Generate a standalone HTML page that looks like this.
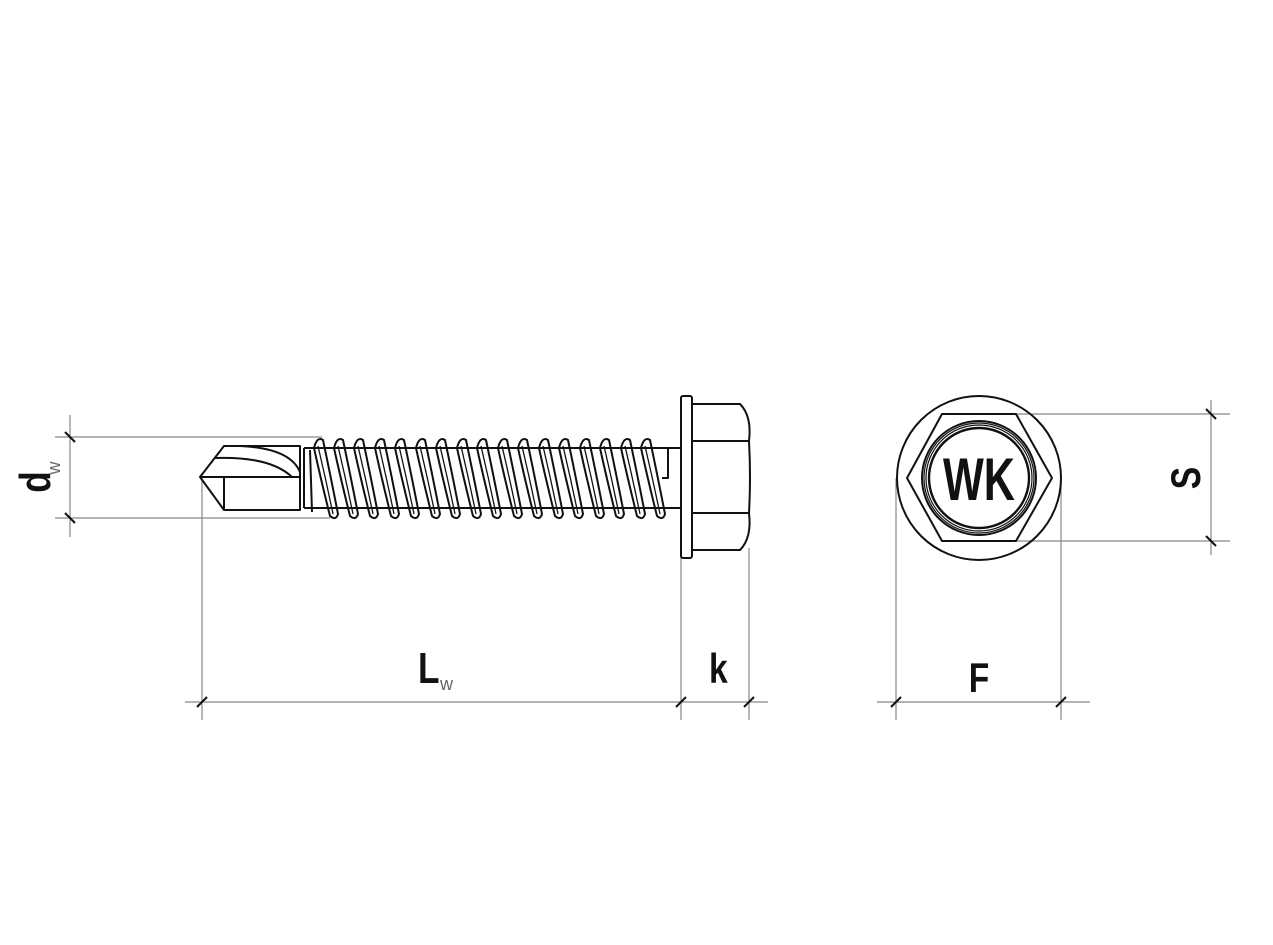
<!DOCTYPE html>
<html><head><style>body{margin:0;background:#fff}svg{display:block}text{font-family:"Liberation Sans",sans-serif;font-weight:bold;fill:#111}</style></head>
<body>
<svg width="1273" height="945" viewBox="0 0 1273 945" xmlns="http://www.w3.org/2000/svg">
<g stroke="#888" stroke-width="1.2" fill="none">
<line x1="70" y1="415" x2="70" y2="537"/>
<line x1="55" y1="437" x2="322" y2="437"/>
<line x1="55" y1="518" x2="330" y2="518"/>
<line x1="202" y1="477" x2="202" y2="720"/>
<line x1="681" y1="555" x2="681" y2="720"/>
<line x1="749" y1="548" x2="749" y2="720"/>
<line x1="185" y1="702" x2="768" y2="702"/>
<line x1="896" y1="478" x2="896" y2="720"/>
<line x1="1061" y1="478" x2="1061" y2="720"/>
<line x1="877" y1="702" x2="1090" y2="702"/>
<line x1="1016" y1="414" x2="1230" y2="414"/>
<line x1="1016" y1="541" x2="1230" y2="541"/>
<line x1="1211" y1="400" x2="1211" y2="555"/>
</g>
<g stroke="#111" stroke-width="2">
<line x1="65" y1="432" x2="75" y2="442"/><line x1="65" y1="513" x2="75" y2="523"/>
<line x1="197" y1="707" x2="207" y2="697"/><line x1="676" y1="707" x2="686" y2="697"/><line x1="744" y1="707" x2="754" y2="697"/>
<line x1="891" y1="707" x2="901" y2="697"/><line x1="1056" y1="707" x2="1066" y2="697"/>
<line x1="1206" y1="409" x2="1216" y2="419"/><line x1="1206" y1="536" x2="1216" y2="546"/>
</g>
<g stroke="#111" stroke-width="2" fill="none" stroke-linejoin="round">
<path d="M224 446 L300 446 L300 510 L224 510 L200 477 Z"/>
<line x1="200" y1="477" x2="300" y2="477"/>
<line x1="224" y1="477" x2="224" y2="510"/>
<path d="M214 458 Q270 456 292 477"/>
<path d="M240 446 Q290 448 300 472"/>
<line x1="304" y1="448" x2="681" y2="448"/>
<line x1="304" y1="508" x2="681" y2="508"/>
<path d="M304 448 L304 508 M310 450 L312 512"/>
<path d="M660 448 L668 448 L668 478 L662 478"/>
<g id="th">
<path d="M314 448 Q317 436 323 440 Q331 478 338 514 Q336 521 330 516 Q321 480 314 448"/>
<path d="M318 446 Q326 480 333 514" stroke-width="1.3"/>
</g>
<use href="#th" x="20"/><use href="#th" x="40"/><use href="#th" x="61"/><use href="#th" x="81"/>
<use href="#th" x="102"/><use href="#th" x="122"/><use href="#th" x="143"/><use href="#th" x="163"/>
<use href="#th" x="184"/><use href="#th" x="204"/><use href="#th" x="225"/><use href="#th" x="245"/>
<use href="#th" x="266"/><use href="#th" x="286"/><use href="#th" x="307"/><use href="#th" x="327"/>
<rect x="681" y="396" width="11" height="162" rx="2"/>
<path d="M692 404 L740 404 Q752 416 749 441 L692 441"/>
<path d="M692 441 L749 441 Q751 477 749 513 L692 513"/>
<path d="M692 513 L749 513 Q752 538 740 550 L692 550"/>
<circle cx="979" cy="478" r="82"/>
<polygon points="942,414 1016,414 1052,478 1016,541 942,541 907,478"/>
<circle cx="979" cy="478" r="57"/>
<circle cx="979" cy="478" r="55" stroke-width="1.2"/>
<circle cx="979" cy="478" r="53" stroke-width="1.2"/>
<circle cx="979" cy="478" r="50" stroke-width="2.4"/>
</g>
<text transform="translate(979,500) scale(0.72,1)" font-size="60" text-anchor="middle">WK</text>
<text transform="translate(418,683) scale(0.8,1)" font-size="44">L</text>
<text x="440" y="690" font-size="18" style="font-weight:normal;fill:#666">w</text>
<text transform="translate(709,683) scale(0.8,1)" font-size="42">k</text>
<text transform="translate(979,692) scale(0.8,1)" font-size="42" text-anchor="middle">F</text>
<text transform="translate(1200,478) rotate(-90) scale(0.8,1)" font-size="42" text-anchor="middle">S</text>
<text transform="translate(50,482) rotate(-90) scale(0.8,1)" font-size="44" text-anchor="middle">d</text>
<text transform="translate(60,468) rotate(-90)" font-size="18" text-anchor="middle" style="font-weight:normal;fill:#666">w</text>
</svg>
</body></html>
